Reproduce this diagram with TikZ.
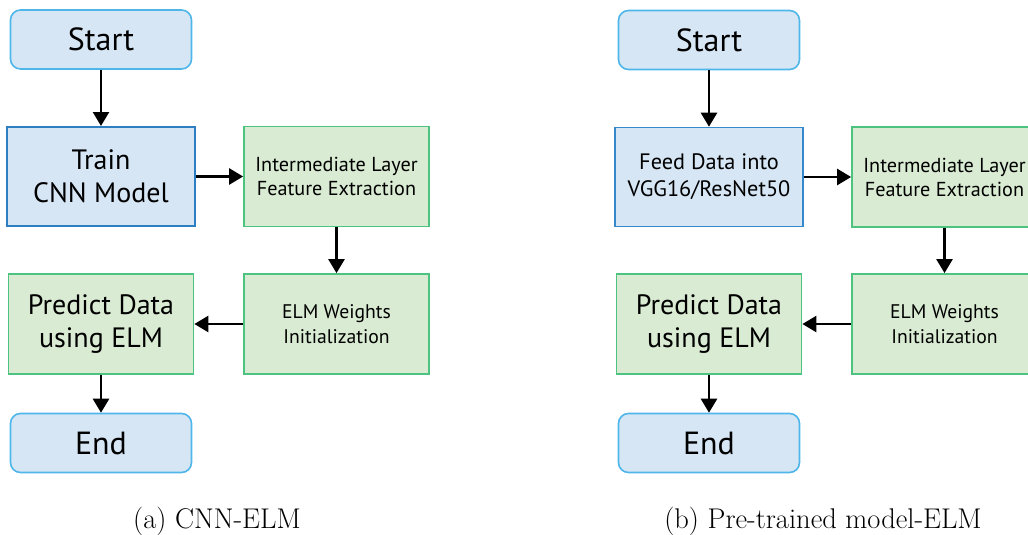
\documentclass[tikz,border=0pt]{standalone}
\usepackage{fontspec}
\newfontfamily\diag{PT Sans}
\usetikzlibrary{arrows.meta}
\definecolor{bfill}{HTML}{D6E6F5}
\definecolor{bline}{HTML}{4FB6EA}
\definecolor{bdark}{HTML}{2E7EC2}
\definecolor{gfill}{HTML}{D9EBD2}
\definecolor{gline}{HTML}{4CC37F}
\tikzset{
  term/.style={draw=bline, fill=bfill, line width=1.6pt, rounded corners=10pt,
    minimum width=181pt, minimum height=59pt, inner sep=0pt,
    font=\diag\fontsize{32}{36}\selectfont},
  procb/.style={draw=bdark, fill=bfill, line width=2pt,
    minimum width=188pt, minimum height=99pt, inner sep=0pt, align=center},
  procg/.style={draw=gline, fill=gfill, line width=1.8pt,
    minimum width=185pt, minimum height=100pt, inner sep=0pt, align=center},
  bigtxt/.style={font=\diag\fontsize{28}{33}\selectfont},
  midtxt/.style={font=\diag\fontsize{20.2}{24}\selectfont},
  feedtxt/.style={font=\diag\fontsize{22.3}{27}\selectfont},
  smalltxt/.style={font=\diag\fontsize{19.7}{25}\selectfont},
  arr/.style={line width=2.5pt, -{Triangle[width=16pt,length=14pt]}},
  captxt/.style={anchor=base, font=\fontsize{28.5}{32}\selectfont}
}
\begin{document}
\begin{tikzpicture}[x=1pt,y=-1pt]
\useasboundingbox (0,0) rectangle (1028,535);
% left panel
\node[term] (start) at (101,39.5) {Start};
\node[procb, bigtxt] (train) at (101,176.5) {Train\\CNN Model};
\node[procg, midtxt] (inter) at (336.5,176.5) {Intermediate Layer\\Feature Extraction};
\node[procg, smalltxt] (elm) at (336.5,324) {ELM Weights\\Initialization};
\node[procg, bigtxt] (pred) at (101,324) {Predict Data\\using ELM};
\node[term] (end) at (101,443) {End};
\draw[arr] (start) -- (train);
\draw[arr] (train) -- (inter);
\draw[arr] (inter) -- (elm);
\draw[arr] (elm) -- (pred);
\draw[arr] (pred) -- (end);
\node[captxt] (capa) at (217,528) {(a) CNN-ELM};
% right panel
\node[term] (start2) at (709,40) {Start};
\node[procb, feedtxt, draw=bdark!80!bline, line width=1.6pt] (feed) at (709,177) {Feed Data into\\VGG16/ResNet50};
\node[procg, midtxt] (inter2) at (944.5,177) {Intermediate Layer\\Feature Extraction};
\node[procg, smalltxt] (elm2) at (944.5,324) {ELM Weights\\Initialization};
\node[procg, bigtxt] (pred2) at (709,324) {Predict Data\\using ELM};
\node[term] (end2) at (709,443) {End};
\draw[arr] (start2) -- (feed);
\draw[arr] (feed) -- (inter2);
\draw[arr] (inter2) -- (elm2);
\draw[arr] (elm2) -- (pred2);
\draw[arr] (pred2) -- (end2);
\node[captxt] (capb) at (823,528) {(b) Pre-trained model-ELM};
\end{tikzpicture}
\end{document}
